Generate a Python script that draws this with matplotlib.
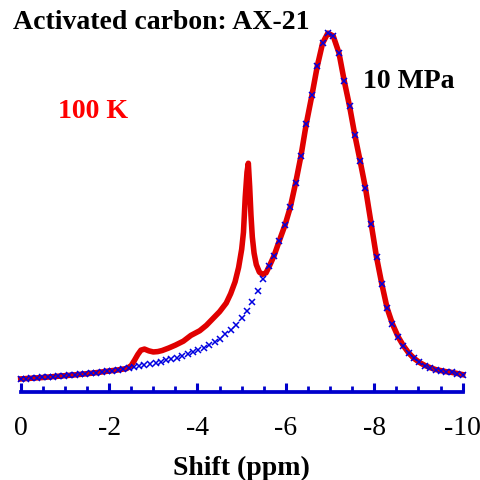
import matplotlib
matplotlib.use("Agg")
import matplotlib.pyplot as plt
from matplotlib.ticker import MultipleLocator

plt.rcParams['font.family'] = ['Liberation Serif', 'DejaVu Serif']

# fitted curve (blue x markers): shift (ppm) and intensity (peak ~ 100)
fit_shift = [0.00, -0.12, -0.24, -0.37, -0.49, -0.61, -0.73, -0.85, -0.98, -1.10,
             -1.22, -1.34, -1.46, -1.59, -1.71, -1.83, -1.95, -2.07, -2.20, -2.32,
             -2.44, -2.56, -2.68, -2.80, -2.93, -3.05, -3.17, -3.29, -3.41, -3.54,
             -3.66, -3.78, -3.90, -4.02, -4.15, -4.27, -4.39, -4.51, -4.63, -4.76,
             -4.88, -5.00, -5.12, -5.24, -5.37, -5.49, -5.61, -5.73, -5.85, -5.98,
             -6.10, -6.22, -6.34, -6.46, -6.59, -6.71, -6.83, -6.95, -7.07, -7.20,
             -7.32, -7.44, -7.56, -7.68, -7.80, -7.93, -8.05, -8.17, -8.29, -8.41,
             -8.54, -8.66, -8.78, -8.90, -9.02, -9.15, -9.27, -9.39, -9.51, -9.63,
             -9.76, -9.88, -10.00]
fit_int = [3.5, 3.6, 3.7, 3.8, 3.9, 4.0, 4.1, 4.3, 4.4, 4.5,
           4.6, 4.8, 4.9, 5.1, 5.2, 5.4, 5.6, 5.8, 6.0, 6.2,
           6.5, 6.7, 7.0, 7.3, 7.6, 7.9, 8.3, 8.7, 9.0, 9.4,
           9.9, 10.3, 10.9, 11.5, 12.1, 12.9, 13.7, 14.7, 15.9, 17.2,
           18.6, 20.4, 22.5, 25.0, 28.0, 31.3, 34.9, 37.7, 41.9, 46.3,
           51.3, 58.0, 65.5, 74.4, 82.5, 90.5, 96.9, 99.7, 98.9, 94.2,
           86.4, 79.4, 71.3, 64.1, 56.6, 46.6, 37.4, 29.9, 23.2, 18.8,
           15.2, 12.7, 10.7, 9.2, 8.1, 7.2, 6.6, 6.1, 5.8, 5.5,
           5.3, 5.0, 4.7]

# measured spectrum (red line)
exp_shift = [0.00, -0.25, -0.50, -0.75, -1.00, -1.25, -1.50, -1.75, -2.00, -2.20,
             -2.40, -2.50, -2.58, -2.65, -2.72, -2.80, -2.90, -3.00, -3.10, -3.20,
             -3.35, -3.50, -3.68, -3.85, -4.05, -4.20, -4.35, -4.50, -4.65, -4.75,
             -4.85, -4.93, -5.00, -5.04, -5.08, -5.12, -5.15, -5.18, -5.21, -5.24,
             -5.28, -5.33, -5.40, -5.47, -5.55, -5.63, -5.73, -5.85, -5.98,
             -6.10, -6.22, -6.34, -6.46, -6.59, -6.71, -6.83, -6.95, -7.07, -7.20,
             -7.32, -7.44, -7.56, -7.68, -7.80, -7.93, -8.05, -8.17, -8.29, -8.41,
             -8.54, -8.66, -8.78, -8.90, -9.02, -9.15, -9.27, -9.39, -9.51, -9.63,
             -9.76, -9.88, -10.00]
exp_int = [3.5, 3.7, 3.9, 4.15, 4.4, 4.65, 4.95, 5.3, 5.7, 6.0,
           6.4, 7.2, 8.8, 10.3, 11.5, 11.8, 11.3, 11.0, 11.1, 11.4,
           12.1, 12.9, 14.0, 15.6, 16.9, 18.4, 20.3, 22.2, 24.6, 27.2,
           30.5, 34.5, 39.6, 44.3, 54.0, 61.0, 63.5, 57.0, 49.0, 43.0,
           38.5, 35.3, 33.2, 32.6, 33.0, 35.0, 37.7, 41.9, 46.3,
           51.3, 58.0, 65.5, 74.4, 82.5, 90.5, 96.9, 99.7, 98.9, 94.2,
           86.4, 79.4, 71.3, 64.1, 56.6, 46.6, 37.4, 29.9, 23.2, 18.8,
           15.2, 12.7, 10.7, 9.2, 8.1, 7.2, 6.6, 6.1, 5.8, 5.5,
           5.3, 5.0, 4.7]

axis_blue = '#0000cc'

fig = plt.figure(figsize=(4.8, 4.81), dpi=100)
ax = fig.add_axes([20.7/480, (481-392.5)/481, 442/480, 364.5/481])

ax.plot(exp_shift, exp_int, c='#e00000', lw=4, clip_on=False, zorder=2)
ax.plot(fit_shift, fit_int, ls='none', marker='x', ms=5, mew=1.1,
        c='#0000e0', clip_on=False, zorder=3)

ax.set_xlim(0, -10)
ax.set_ylim(0, 101.4)

for s in ['left', 'right', 'top']:
    ax.spines[s].set_visible(False)
ax.spines['bottom'].set_color(axis_blue)
ax.spines['bottom'].set_linewidth(2.7)
ax.set_yticks([])

ax.xaxis.set_major_locator(MultipleLocator(2))
ax.xaxis.set_minor_locator(MultipleLocator(0.5))
ax.tick_params(axis='x', which='major', direction='in', length=6.6, width=2.2,
               color=axis_blue, labelsize=20, pad=17)
ax.tick_params(axis='x', which='minor', direction='in', length=4.2, width=2.0,
               color=axis_blue)
ax.set_xticks([0, -2, -4, -6, -8, -10])
ax.set_xticklabels(['0', '-2', '-4', '-6', '-8', '-10'])

ax.set_xlabel('Shift (ppm)', fontsize=20, fontweight='bold', va='center')
ax.xaxis.set_label_coords(0.5, (392.5 - 468) / 364.5)

fig.text(12.7/480, 1 - 28.7/481, 'Activated carbon: AX-21', fontsize=20,
         fontweight='bold', va='baseline', ha='left')
fig.text(363.3/480, 1 - 88.3/481, '10 MPa', fontsize=20,
         fontweight='bold', va='baseline', ha='left')
fig.text(58.3/480, 1 - 118.5/481, '100 K', fontsize=20, color='red',
         fontweight='bold', va='baseline', ha='left')

plt.savefig('out.png', dpi=100)
plt.close()
